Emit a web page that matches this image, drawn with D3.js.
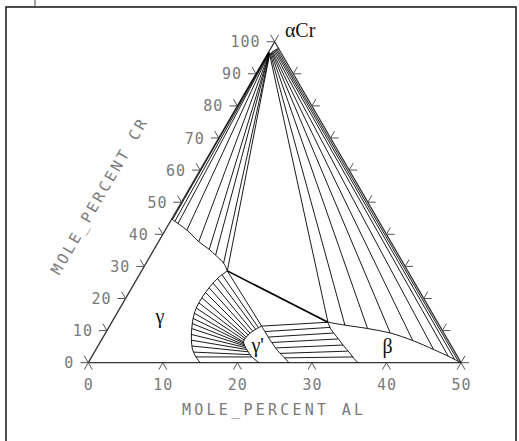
<!DOCTYPE html>
<html><head><meta charset="utf-8">
<script src="https://cdn.jsdelivr.net/npm/d3@7"></script>
<style>body{margin:0;background:#fff}svg{display:block}</style>
</head><body><svg id="c" width="519" height="441"></svg>
<script>
// ---- axis ticks ----
const alTicks = [0, 10, 20, 30, 40, 50];
const crTicks = [0, 10, 20, 30, 40, 50, 60, 70, 80, 90, 100];
const rightEdgeTicks = [10, 20, 30, 40, 50, 60, 70, 80, 90];
const xTitle = "MOLE_PERCENT AL";
const yTitle = "MOLE_PERCENT CR";

// ---- phase boundaries, [Al, Cr] mole percent ----
const gammaAlphaBoundary = [[0,44.8],[0.3,44.4],[2.9,41.3],[5.4,37.7],[7.4,35.3],[8.7,33.5],[10.4,31.0],[11.5,28.6]];
const alphaBoundary = [[0,96.75],[0.03,96.7],[0.3,96.1],[0.5,96.9],[0.9,97.7],[1.1,97.8]];
const gammaArc = [[11.5,28.6],[10.8,26.4],[10.4,23.7],[10.2,20.8],[10.2,17.4],[10.5,14.5],[11.1,11.2],[11.9,7.7],[13.0,4.0],[14.0,1.8],[15.0,0]];
const gammaPrimeLeft = [[20.4,11.4],[19.9,10.5],[19.4,9.2],[19.2,7.9],[19.2,6.5],[19.7,5.2],[20.5,3.6],[21.5,1.8],[22.9,0]];
const gammaPrimeRight = [[20.4,11.4],[21.5,9.25],[22.6,7.1],[23.8,4.9],[25.0,2.9],[26.1,1.3],[26.9,0]];
const betaLeft = [[29.0,12.6],[29.9,10.5],[31.3,8.1],[32.8,5.5],[34.4,2.9],[35.3,1.3],[36.2,0]];
const betaAlphaBoundary = [[29.0,12.6],[31.5,11.7],[34.8,10.65],[38.2,9.25],[41.8,6.9],[45.3,4.1],[47.8,2.0],[48.9,1.0],[50,0]];
const gammaBetaEdge = [[11.5,28.6],[29.0,12.6]];

// ---- tie lines ----
const alphaGammaTies = [
  [[0.15,44.6],[0.03,96.7]], [[0.6,44.0],[0.06,96.65]], [[1.2,43.3],[0.09,96.6]],
  [[2.9,41.3],[0.12,96.5]], [[5.4,37.7],[0.16,96.4]], [[7.4,35.3],[0.2,96.3]],
  [[8.7,33.5],[0.22,96.25]], [[10.4,31.0],[0.26,96.2]], [[11.5,28.6],[0.3,96.1]]
];
const alphaBetaTies = [
  [[0.3,96.1],[29.0,12.6]], [[0.35,96.3],[31.5,11.7]], [[0.4,96.5],[34.8,10.65]],
  [[0.45,96.7],[38.2,9.25]], [[0.5,96.9],[41.8,6.9]], [[0.6,97.1],[45.3,4.1]],
  [[0.7,97.3],[47.8,2.0]], [[0.8,97.5],[48.9,1.0]], [[0.9,97.7],[49.6,0.3]]
];
const gammaGammaPrimeTies = [
  [[11.5,28.6],[20.4,11.4]], [[11.1,27.4],[20.1,10.9]], [[10.8,26.2],[19.85,10.4]],
  [[10.55,24.8],[19.6,9.8]], [[10.4,23.3],[19.4,9.2]], [[10.3,21.8],[19.3,8.6]],
  [[10.2,20.2],[19.2,8.0]], [[10.2,18.6],[19.2,7.5]], [[10.25,17.0],[19.2,7.0]],
  [[10.4,15.4],[19.2,6.5]], [[10.6,13.8],[19.35,6.1]], [[10.9,12.2],[19.55,5.6]],
  [[11.25,10.6],[19.7,5.2]], [[11.6,8.8],[19.95,4.7]], [[12.1,7.0],[20.25,4.1]],
  [[12.6,5.2],[20.6,3.4]], [[13.3,3.3],[21.1,2.5]], [[14.0,1.8],[21.5,1.8]]
];
const gammaPrimeBetaTies = [
  [[20.4,11.4],[29.0,12.6]], [[21.3,9.7],[29.7,11.0]], [[22.2,8.0],[30.6,9.25]],
  [[23.1,6.3],[31.65,7.4]], [[24.0,4.6],[32.8,5.5]], [[25.0,2.9],[33.9,3.6]],
  [[25.9,1.5],[35.1,1.8]]
];
const phaseNames = ["\u03B1Cr", "\u03B3", "\u03B3'", "\u03B2"];
const phaseAt = [[1.0,101.5],[6.5,12.4],[21.9,3.3],[39.35,3.15]];

// ---- layout ----
const svg = d3.select("#c");
const xAl = d3.scaleLinear().domain([0,50]).range([88.3,461]);
const xShift = d3.scaleLinear().domain([0,100]).range([0,186.35]);
const yCr = d3.scaleLinear().domain([0,100]).range([362.7,41.7]);
const P = (al,cr) => [xAl(al) + xShift(cr), yCr(cr)];

svg.append("rect").attr("x",6).attr("y",7).attr("width",510).attr("height",460)
  .attr("fill","none").attr("stroke","#222").attr("stroke-width",1.6);
svg.append("line").attr("x1",35).attr("x2",35).attr("y1",0).attr("y2",7).attr("stroke","#444").attr("stroke-width",1);

const line = d3.line().x(d=>P(d[0],d[1])[0]).y(d=>P(d[0],d[1])[1]);
const curve = d3.line().curve(d3.curveCatmullRom.alpha(0.5)).x(d=>P(d[0],d[1])[0]).y(d=>P(d[0],d[1])[1]);

// triangle
svg.append("path").attr("d", line([[0,0],[50,0],[0,100],[0,0]]))
  .attr("fill","none").attr("stroke","#333").attr("stroke-width",1.3);

// ticks
const L = 8;
const W2 = xShift(100), H = yCr(0)-yCr(100);
const len = Math.hypot(W2,H);
const uL = [W2/len, -H/len];   // along left edge, upward
const uR = [-W2/len, -H/len];  // along right edge, upward
const tickG = svg.append("g").attr("stroke","#555").attr("stroke-width",1).attr("fill","none");
function seg(p, v, s){ tickG.append("line").attr("x1",p[0]).attr("y1",p[1]).attr("x2",p[0]+v[0]*s).attr("y2",p[1]+v[1]*s); }
crTicks.forEach(c=>{ const p=P(0,c); seg(p,[-1,0],L); seg(p,uR,L);
  if(c===0){ seg(p,uL,-L); seg(p,uR,-L); }
  if(c===100){ seg(p,uL,L); } });
rightEdgeTicks.forEach(c=>{ const p=P(50-c/2,c); seg(p,[1,0],L); seg(p,uL,L); });
alTicks.forEach(a=>{ const p=P(a,0);
  if(a===0) return;
  seg(p,uL,-L); seg(p,uR,-L);
  if(a===50){ seg(p,[1,0],L); seg(p,uL,L); } });

// phase lines
const g = svg.append("g").attr("fill","none").attr("stroke","#000").attr("stroke-width",0.9);
[alphaGammaTies, alphaBetaTies, gammaGammaPrimeTies, gammaPrimeBetaTies].forEach(set=>
  set.forEach(t=> g.append("path").attr("d", line(t))));
[gammaAlphaBoundary, alphaBoundary, gammaArc, gammaPrimeLeft, gammaPrimeRight, betaLeft, betaAlphaBoundary].forEach(b=>
  g.append("path").attr("d", curve(b)));
g.append("path").attr("d", line(gammaBetaEdge)).attr("stroke-width",1.6);

// tick labels
const lab = svg.append("g").attr("font-family","DejaVu Sans Mono").attr("font-size",15)
  .attr("fill","#7a7a7a").attr("letter-spacing",1);
crTicks.forEach(c=>{ const p=P(0,c);
  lab.append("text").attr("x",p[0]-14).attr("y",p[1]+5.5).attr("text-anchor","end").text(c); });
alTicks.forEach(a=>{ const p=P(a,0);
  lab.append("text").attr("x",p[0]+0.5).attr("y",390).attr("text-anchor","middle").text(a); });

svg.append("text").attr("x",272.5).attr("y",415).attr("text-anchor","middle")
  .attr("font-family","DejaVu Sans Mono").attr("font-size",15).attr("fill","#7a7a7a")
  .attr("textLength",181).attr("lengthAdjust","spacing").text(xTitle);
svg.append("text").attr("transform","translate(99,197) rotate(-60)").attr("y",5).attr("text-anchor","middle")
  .attr("font-family","DejaVu Sans Mono").attr("font-size",15).attr("fill","#7a7a7a")
  .attr("textLength",176).attr("lengthAdjust","spacing").text(yTitle);

// phase labels
phaseNames.forEach((n,i)=>{ const p=P(phaseAt[i][0],phaseAt[i][1]);
  svg.append("text").attr("x",p[0]).attr("y",p[1]).attr("text-anchor", i===0?"start":"middle")
    .attr("font-family","Liberation Serif").attr("font-size",20).attr("fill","#111").text(n); });
</script></body></html>
